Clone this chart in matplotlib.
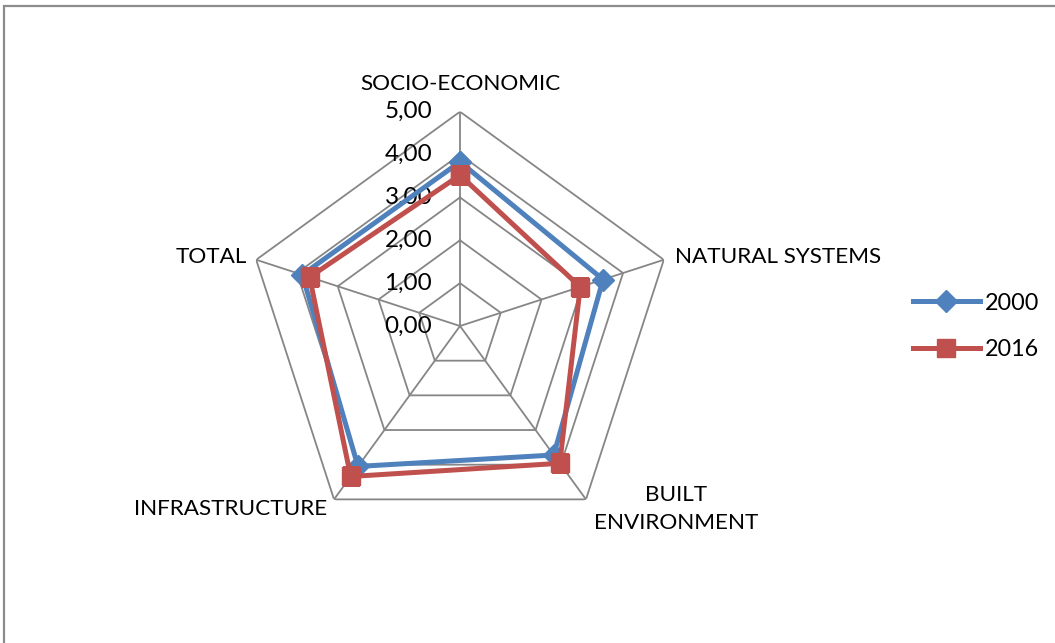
import numpy as np
import matplotlib
matplotlib.use("Agg")
import matplotlib.pyplot as plt
from matplotlib.patches import Rectangle

plt.rcParams['font.family'] = ['Lato', 'DejaVu Sans']

# Indicator scores per dimension
categories = ["SOCIO-ECONOMIC", "NATURAL SYSTEMS", "BUILT\nENVIRONMENT", "INFRASTRUCTURE", "TOTAL"]
scores_2000 = [3.83, 3.51, 3.72, 4.05, 3.87]
scores_2016 = [3.52, 2.95, 3.96, 4.34, 3.69]
series_names = ["2000", "2016"]
ring_values = [0, 1, 2, 3, 4, 5]
ring_labels = ["0,00", "1,00", "2,00", "3,00", "4,00", "5,00"]

W, H = 1055, 643
fig = plt.figure(figsize=(W / 100, H / 100), dpi=100)

# outer chart frame
fig.patches.append(Rectangle((4 / W, -0.05), 1.1, (H - 6) / H + 0.05, transform=fig.transFigure,
                             fill=False, edgecolor="#8c8c8c", linewidth=1.6))

cx, cy, rad = 460, 326, 214.3
ax = fig.add_axes([(cx - rad) / W, (H - cy - rad) / H, 2 * rad / W, 2 * rad / H], projection="polar")
ax.set_theta_offset(np.pi / 2)
ax.set_theta_direction(-1)
ax.set_ylim(0, 5)
ax.grid(False)
ax.spines["polar"].set_visible(False)
ax.set_xticks([])
ax.set_yticks([])
ax.patch.set_alpha(0)

n = len(categories)
angles = np.arange(n) * 2 * np.pi / n
closed = np.append(angles, angles[0])

grid_col = "#868686"
for v in ring_values[1:]:
    ax.plot(closed, [v] * (n + 1), color=grid_col, lw=1.3, zorder=1)
for a in angles:
    ax.plot([a, a], [0, ring_values[-1]], color=grid_col, lw=1.3, zorder=1)

tick_fs = 17.5
cat_fs = 16.2
leg_fs = 16.8
for v, lab in zip(ring_values, ring_labels):
    ax.annotate(lab, xy=(0, v), xytext=(-20, 0), textcoords="offset points",
                ha="right", va="center", fontsize=tick_fs, color="black", zorder=2)

# category labels around the outer ring
offsets = [(0, 20, "center", "center"),
           (8, 2, "left", "center"),
           (65, -7, "center", "center"),
           (-5, -7, "right", "center"),
           (-6.5, 2, "right", "center")]
for a, lab, (dx, dy, ha, va) in zip(angles, categories, offsets):
    ax.annotate(lab, xy=(a, ring_values[-1]), xytext=(dx, dy), textcoords="offset points",
                ha=ha, va=va, fontsize=cat_fs, color="black", linespacing=1.45, annotation_clip=False)

blue, red = "#4F81BD", "#C0504D"
ax.plot(closed, np.append(scores_2000, scores_2000[0]), color=blue, lw=3.6,
        marker="D", markersize=11, zorder=3, label=series_names[0], solid_joinstyle="miter")
ax.plot(closed, np.append(scores_2016, scores_2016[0]), color=red, lw=3.6,
        marker="s", markersize=13.5, zorder=4, label=series_names[1], solid_joinstyle="miter")

fig.legend(loc="center left", bbox_to_anchor=(913 / W, (H - 326.5) / H), frameon=False,
           fontsize=leg_fs, handlelength=2.85, handletextpad=0.25, labelspacing=1.1,
           borderpad=0, borderaxespad=0)

fig.savefig("out.png", dpi=100)
